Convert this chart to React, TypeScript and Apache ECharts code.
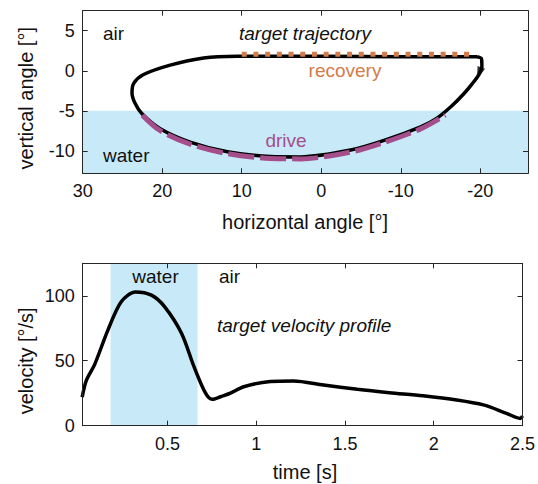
import React, { useEffect, useRef } from "react";
import * as echarts from "echarts";

// ---- top panel: target trajectory (horizontal angle [deg], vertical angle [deg]) ----
const loopH = [-19.6, -20.15, -20.2, -19.8, -19.0, -17.9, -16.4, -14.5, -12.5, -7.9, -3.7, 2.6, 6.4, 11.8, 16.5, 20.3, 22.6, 23.4, 23.8, 23.6, 22.4, 19.0, 14.8, 10.6, 0, -10, -19.6];
const loopV = [1.75, 1.5, 0.5, -0.5, -1.6, -2.9, -4.4, -5.95, -7.0, -8.7, -9.9, -10.75, -10.7, -10.1, -8.9, -7.2, -5.3, -4.1, -2.8, -1.6, -0.5, 0.7, 1.6, 1.8, 1.8, 1.75, 1.75];

const driveH = [22.5, 20.3, 16.5, 11.8, 6.4, 2.6, -3.7, -7.9, -12.5, -15.6];
const driveV = [-5.55, -7.45, -9.15, -10.35, -10.95, -11.0, -10.15, -8.95, -7.25, -5.55];

const recoveryH = [10, -19.3];
const recoveryV = [2.05, 2.05];

const arrowH = [-19.85];
const arrowV = [-0.35];

const topXTicks = [30, 20, 10, 0, -10, -20];
const topYTicks = [5, 0, -5, -10];
const waterTopV = [-5, -12.8];

// ---- bottom panel: target velocity profile ----
const timeS = [0.02, 0.044, 0.09, 0.165, 0.24, 0.32, 0.41, 0.485, 0.58, 0.65, 0.715, 0.752, 0.8, 0.855, 0.93, 1.08, 1.21, 1.38, 1.57, 1.75, 1.94, 2.13, 2.28, 2.41, 2.488, 2.5];
const velocity = [22, 35, 47, 73.6, 95.4, 103, 100.5, 91.5, 71, 45.4, 25, 20.3, 22.3, 25, 30, 34, 34.4, 31.3, 28, 25.4, 23, 19.8, 16, 9.5, 5.6, 7.5];
const botXTicks = [0.5, 1, 1.5, 2, 2.5];
const botYTicks = [0, 50, 100];
const waterTimeS = [0.18, 0.67];

const FONT = "'Liberation Sans', Arial, Helvetica, sans-serif";
const FRAME = "#262626";
const BLUE = "#c8eaf8";
const ORANGE = "#d27b4b";
const PURPLE = "#a54e8c";

function axis(kind: "x" | "y", grid: number, min: number, max: number, ticks: number[], position: string, showLabel: boolean, inverse = false) {
  return {
    type: "value",
    gridIndex: grid,
    position,
    min,
    max,
    inverse,
    z: 5,
    axisLine: { show: true, onZero: false, lineStyle: { color: FRAME, width: 1 } },
    axisTick: { show: true, inside: true, length: 5, customValues: ticks, lineStyle: { color: FRAME, width: 1 } },
    axisLabel: {
      show: showLabel,
      customValues: ticks,
      color: "#111",
      fontSize: 18,
      fontFamily: FONT,
      margin: kind === "x" ? 9 : 8,
    },
    splitLine: { show: false },
  };
}

export default function App() {
  const ref = useRef<HTMLDivElement>(null);
  useEffect(() => {
    if (!ref.current) return;
    const chart = echarts.init(ref.current, null, { renderer: "svg" });
    const txt = (x: number, y: number, text: string, opts: any = {}) => ({
      type: "text",
      x,
      y,
      rotation: opts.rotation || 0,
      style: {
        text,
        fill: opts.color || "#111",
        font: `${opts.italic ? "italic " : ""}${opts.size || 19}px ${FONT}`,
        align: opts.align || "center",
        verticalAlign: "middle",
      },
      z: 10,
    });
    chart.setOption({
      animation: false,
      backgroundColor: "#fff",
      grid: [
        { left: 82.7, top: 10.7, width: 445.3, height: 162.6 },
        { left: 82.7, top: 263.3, width: 444.3, height: 162.4 },
      ],
      xAxis: [
        axis("x", 0, -26, 30, topXTicks, "bottom", true, true),
        axis("x", 0, -26, 30, topXTicks, "top", false, true),
        axis("x", 1, 0.023, 2.5, botXTicks, "bottom", true),
        axis("x", 1, 0.023, 2.5, botXTicks, "top", false),
      ],
      yAxis: [
        axis("y", 0, -12.8, 7.5, topYTicks, "left", true),
        axis("y", 0, -12.8, 7.5, topYTicks, "right", false),
        axis("y", 1, 0, 125, botYTicks, "left", true),
        axis("y", 1, 0, 125, botYTicks, "right", false),
      ],
      series: [
        {
          type: "line",
          xAxisIndex: 0,
          yAxisIndex: 0,
          data: loopH.map((h, i) => [h, loopV[i]]),
          smooth: 0.3,
          showSymbol: false,
          lineStyle: { color: "#000", width: 3.5 },
          markArea: {
            silent: true,
            itemStyle: { color: BLUE },
            data: [[{ yAxis: waterTopV[0] }, { yAxis: waterTopV[1] }]],
          },
          z: 2,
        },
        {
          type: "line",
          xAxisIndex: 0,
          yAxisIndex: 0,
          data: driveH.map((h, i) => [h, driveV[i]]),
          smooth: 0.3,
          showSymbol: false,
          lineStyle: { color: PURPLE, width: 5, type: [26, 6], cap: "butt" },
          z: 3,
        },
        {
          type: "line",
          xAxisIndex: 0,
          yAxisIndex: 0,
          data: recoveryH.map((h, i) => [h, recoveryV[i]]),
          showSymbol: false,
          lineStyle: { color: ORANGE, width: 5, type: [5, 6.7], cap: "butt" },
          z: 3,
        },
        {
          type: "scatter",
          xAxisIndex: 0,
          yAxisIndex: 0,
          data: arrowH.map((h, i) => [h, arrowV[i]]),
          symbol: "triangle",
          symbolSize: [8, 13],
          symbolRotate: 160,
          itemStyle: { color: "#000" },
          z: 4,
        },
        {
          type: "line",
          xAxisIndex: 2,
          yAxisIndex: 2,
          data: timeS.map((t, i) => [t, velocity[i]]),
          smooth: 0.3,
          showSymbol: false,
          lineStyle: { color: "#000", width: 3.5 },
          markArea: {
            silent: true,
            itemStyle: { color: BLUE },
            data: [[{ xAxis: waterTimeS[0] }, { xAxis: waterTimeS[1] }]],
          },
          z: 2,
        },
      ],
      graphic: [
        txt(103, 33.3, "air", { align: "left" }),
        txt(103, 155, "water", { align: "left" }),
        txt(305, 33, "target trajectory", { italic: true }),
        txt(345, 70, "recovery", { color: ORANGE }),
        txt(286, 140, "drive", { color: PURPLE }),
        txt(155.5, 276, "water"),
        txt(219, 276, "air", { align: "left" }),
        txt(217, 325, "target velocity profile", { italic: true, align: "left" }),
        txt(305, 221.5, "horizontal angle [°]", { size: 20 }),
        txt(305, 471.5, "time [s]", { size: 20 }),
        txt(26, 98.3, "vertical angle [°]", { size: 20, rotation: Math.PI / 2 }),
        txt(26, 360.8, "velocity [°/s]", { size: 20, rotation: Math.PI / 2 }),
      ],
    });
    return () => chart.dispose();
  }, []);
  return <div ref={ref} style={{ position: "fixed", left: 0, top: 0, width: 538, height: 484 }} />;
}
